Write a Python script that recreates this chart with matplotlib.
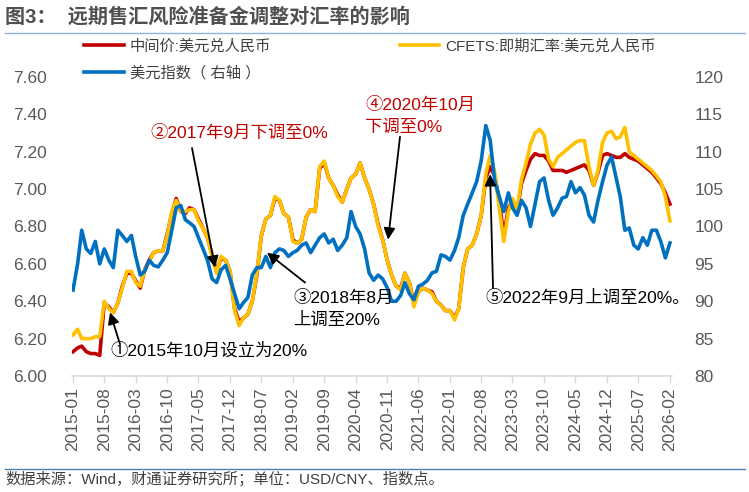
import matplotlib
matplotlib.use("Agg")
import matplotlib.pyplot as plt
import matplotlib.dates as mdates
from matplotlib.lines import Line2D
import numpy as np
import pandas as pd

plt.rcParams['font.family'] = ['Liberation Sans', 'Noto Sans CJK SC', 'DejaVu Sans']

# monthly, 2015-01 .. 2026-02
dates = pd.date_range('2015-01-01', periods=134, freq='MS')

mid_rate = [
    6.13, 6.15, 6.16, 6.13, 6.12, 6.12, 6.11, 6.39, 6.37, 6.34, 6.39, 6.48,
    6.55, 6.55, 6.51, 6.47, 6.57, 6.62, 6.66, 6.67, 6.67, 6.76, 6.87, 6.95,
    6.88, 6.87, 6.90, 6.89, 6.84, 6.79, 6.74, 6.65, 6.56, 6.63, 6.62, 6.56,
    6.36, 6.29, 6.31, 6.33, 6.40, 6.54, 6.75, 6.84, 6.86, 6.95, 6.94, 6.87,
    6.85, 6.73, 6.71, 6.73, 6.85, 6.89, 6.88, 7.11, 7.14, 7.06, 7.02, 6.97,
    6.93, 7.00, 7.06, 7.08, 7.14, 7.06, 7.00, 6.92, 6.81, 6.73, 6.62, 6.54,
    6.48, 6.47, 6.55, 6.50, 6.39, 6.45, 6.47, 6.46, 6.45, 6.40, 6.38, 6.35,
    6.35, 6.31, 6.36, 6.58, 6.68, 6.70, 6.76, 6.86, 7.06, 7.12, 7.07, 6.94,
    6.75, 6.90, 6.94, 6.88, 7.03, 7.10, 7.16, 7.19, 7.18, 7.18, 7.15, 7.10,
    7.10, 7.10, 7.09, 7.10, 7.11, 7.12, 7.13, 7.10, 7.02, 7.09, 7.18, 7.19,
    7.18, 7.17, 7.17, 7.19, 7.17, 7.16, 7.15, 7.13, 7.11, 7.09, 7.06, 7.03,
    6.98, 6.92,
]

spot_rate = [
    6.22, 6.25, 6.20, 6.20, 6.20, 6.21, 6.21, 6.40, 6.36, 6.34, 6.39, 6.47,
    6.56, 6.56, 6.50, 6.48, 6.57, 6.61, 6.66, 6.67, 6.67, 6.75, 6.88, 6.94,
    6.88, 6.88, 6.89, 6.89, 6.83, 6.79, 6.74, 6.64, 6.55, 6.64, 6.62, 6.56,
    6.35, 6.27, 6.31, 6.33, 6.40, 6.55, 6.75, 6.84, 6.86, 6.96, 6.94, 6.87,
    6.85, 6.72, 6.71, 6.73, 6.85, 6.89, 6.88, 7.12, 7.15, 7.06, 7.02, 6.96,
    6.93, 7.00, 7.06, 7.08, 7.14, 7.06, 7.00, 6.92, 6.80, 6.73, 6.62, 6.54,
    6.48, 6.46, 6.55, 6.50, 6.37, 6.45, 6.47, 6.46, 6.44, 6.40, 6.38, 6.35,
    6.35, 6.30, 6.36, 6.58, 6.68, 6.70, 6.76, 6.86, 7.08, 7.18, 7.09, 6.90,
    6.72, 6.88, 6.95, 6.89, 7.05, 7.14, 7.24, 7.30, 7.32, 7.29, 7.16, 7.12,
    7.17, 7.19, 7.21, 7.23, 7.25, 7.26, 7.26, 7.12, 7.02, 7.10, 7.25, 7.30,
    7.31, 7.27, 7.28, 7.33, 7.20, 7.18, 7.16, 7.14, 7.12, 7.10, 7.07, 7.04,
    6.96, 6.83,
]

dxy = [
    91.5, 95.0, 99.5, 97.0, 96.4, 98.0, 95.0, 97.0, 95.5, 94.5, 99.5, 98.8,
    98.0, 98.8, 96.0, 93.5, 94.0, 95.5, 94.8, 94.6, 95.5, 96.5, 99.5, 102.5,
    102.8, 100.9, 100.5, 100.0, 98.5, 97.0, 95.5, 93.0, 92.5, 94.2, 94.8, 93.0,
    91.0, 89.0, 89.8, 90.5, 93.5, 94.5, 94.5, 96.0, 94.5, 96.5, 97.0, 96.8,
    96.0, 96.5, 96.8, 97.5, 97.8, 96.5, 97.5, 98.5, 99.0, 97.8, 98.3, 96.8,
    97.5, 98.5, 102.0, 100.0, 99.0, 97.0, 93.8, 92.8, 93.5, 93.0, 91.8, 90.0,
    90.0, 90.8, 92.5, 91.0, 90.2, 92.0, 92.3, 92.8, 93.8, 94.0, 96.2, 96.0,
    95.5, 96.8, 98.5, 101.5, 103.0, 104.5, 106.0, 108.8, 113.5, 111.5, 106.0, 104.0,
    102.0, 104.5, 102.5, 101.5, 103.5, 102.5, 100.0, 103.0, 106.0, 106.5, 103.5, 101.5,
    102.5, 103.8, 104.0, 106.0, 104.5, 105.2, 104.2, 101.5, 100.6, 103.5, 106.0, 108.2,
    109.3, 106.5, 104.0, 99.5, 99.8, 97.5, 97.0, 98.5, 97.5, 99.5, 99.5, 98.0,
    95.8, 97.8,
]

labels = ['中间价:美元兑人民币', 'CFETS:即期汇率:美元兑人民币', '美元指数（ 右轴 ）']
left_ticks = np.arange(6.0, 7.61, 0.2)
right_ticks = np.arange(80, 121, 5)

RED = '#C00000'
YEL = '#FFC000'
BLUE = '#0070C0'
GRAY = '#595959'

fig = plt.figure(figsize=(7.49, 4.92), dpi=100)
W, H = 749, 492
ax = fig.add_axes([72 / W, 1 - 376 / H, 600 / W, 299 / H])
ax2 = ax.twinx()

l1, = ax.plot(dates, mid_rate, color=RED, lw=2.6)
l2, = ax.plot(dates, spot_rate, color=YEL, lw=2.6)
l3, = ax2.plot(dates, dxy, color=BLUE, lw=2.6)

ax.set_xlim(dates[0] - pd.Timedelta(days=7), dates[-1] + pd.Timedelta(days=14))
ax.set_ylim(6.0, 7.6)
ax2.set_ylim(80, 120)

ax.set_yticks(left_ticks)
ax.set_yticklabels([f'{v:.2f}' for v in left_ticks])
ax2.set_yticks(right_ticks)
ax2.set_yticklabels([f'{v:d}' for v in right_ticks])
ax.set_xticks(dates[::7])
ax.set_xticklabels([d.strftime('%Y-%m') for d in dates[::7]], rotation=90)

for a in (ax, ax2):
    for s in ('top', 'left', 'right'):
        a.spines[s].set_visible(False)
ax2.spines['bottom'].set_visible(False)
ax.spines['bottom'].set_color('#D9D9D9')
ax.spines['bottom'].set_linewidth(1.2)
ax.tick_params(axis='x', colors='#D9D9D9', labelcolor=GRAY, labelsize=12.5,
               length=5, width=1, pad=3)
ax.tick_params(axis='y', length=0, labelcolor=GRAY, labelsize=12.5, pad=18)
ax2.tick_params(axis='y', length=0, labelcolor=GRAY, labelsize=12.5, pad=16)

fig.legend([l1, l3, l2], [labels[0], labels[2], labels[1]], ncol=2,
           loc='upper left', bbox_to_anchor=(84 / W, 1 - 39 / H),
           frameon=False, fontsize=11, labelcolor='#404040',
           handlelength=2.6, handletextpad=0.4, columnspacing=8.4,
           labelspacing=0.8, borderpad=0, borderaxespad=0)

# annotations
tr = ax.transData
notes = [
    ('2015-09-09', 6.34, '2015-11-16', 6.17),
    ('2017-08-21', 6.58, '2017-03-18', 7.22),
    ('2018-08-09', 6.66, '2019-04-24', 6.50),
    ('2020-11-07', 6.73, '2021-01-27', 7.28),
    ('2022-09-30', 7.08, '2022-10-20', 6.47),
]
for hx, hy, tx, ty in notes:
    ax2.annotate('', xy=(mdates.date2num(pd.Timestamp(hx)), hy), xycoords=tr,
                 xytext=(mdates.date2num(pd.Timestamp(tx)), ty), textcoords=tr,
                 arrowprops=dict(arrowstyle='-|>', color='black', lw=1.3,
                                 mutation_scale=17, shrinkA=0, shrinkB=0))

texts = [
    ('2015-09-09', 6.134, '①2015年10月设立为20%', 'black'),
    ('2016-06-06', 7.30, '②2017年9月下调至0%', RED),
    ('2019-02-02', 6.42, '③2018年8月', 'black'),
    ('2019-02-02', 6.30, '上调至20%', 'black'),
    ('2020-06-04', 7.45, '④2020年10月', RED),
    ('2020-06-04', 7.33, '下调至0%', RED),
    ('2022-08-27', 6.42, '⑤2022年9月上调至20%。', 'black'),
]
for x, y, s, c in texts:
    ax2.text(mdates.date2num(pd.Timestamp(x)), y, s, transform=tr, color=c,
             fontsize=12.5, va='center', ha='left')

fig.text(5 / W, 1 - 17 / H, '图3：  远期售汇风险准备金调整对汇率的影响',
         fontsize=14.5, fontweight='bold', color='#505050', va='center', ha='left')
fig.add_artist(Line2D([5 / W, 745 / W], [1 - 33 / H] * 2, color='#8DB3E2', lw=1))
fig.add_artist(Line2D([5 / W, 745 / W], [1 - 469 / H] * 2, color='#4F7FB5', lw=1))
fig.text(5 / W, 1 - 479 / H, '数据来源：Wind，财通证券研究所；单位：USD/CNY、指数点。',
         fontsize=11, color='#404040', va='center', ha='left')

fig.savefig('out.png', dpi=100)
